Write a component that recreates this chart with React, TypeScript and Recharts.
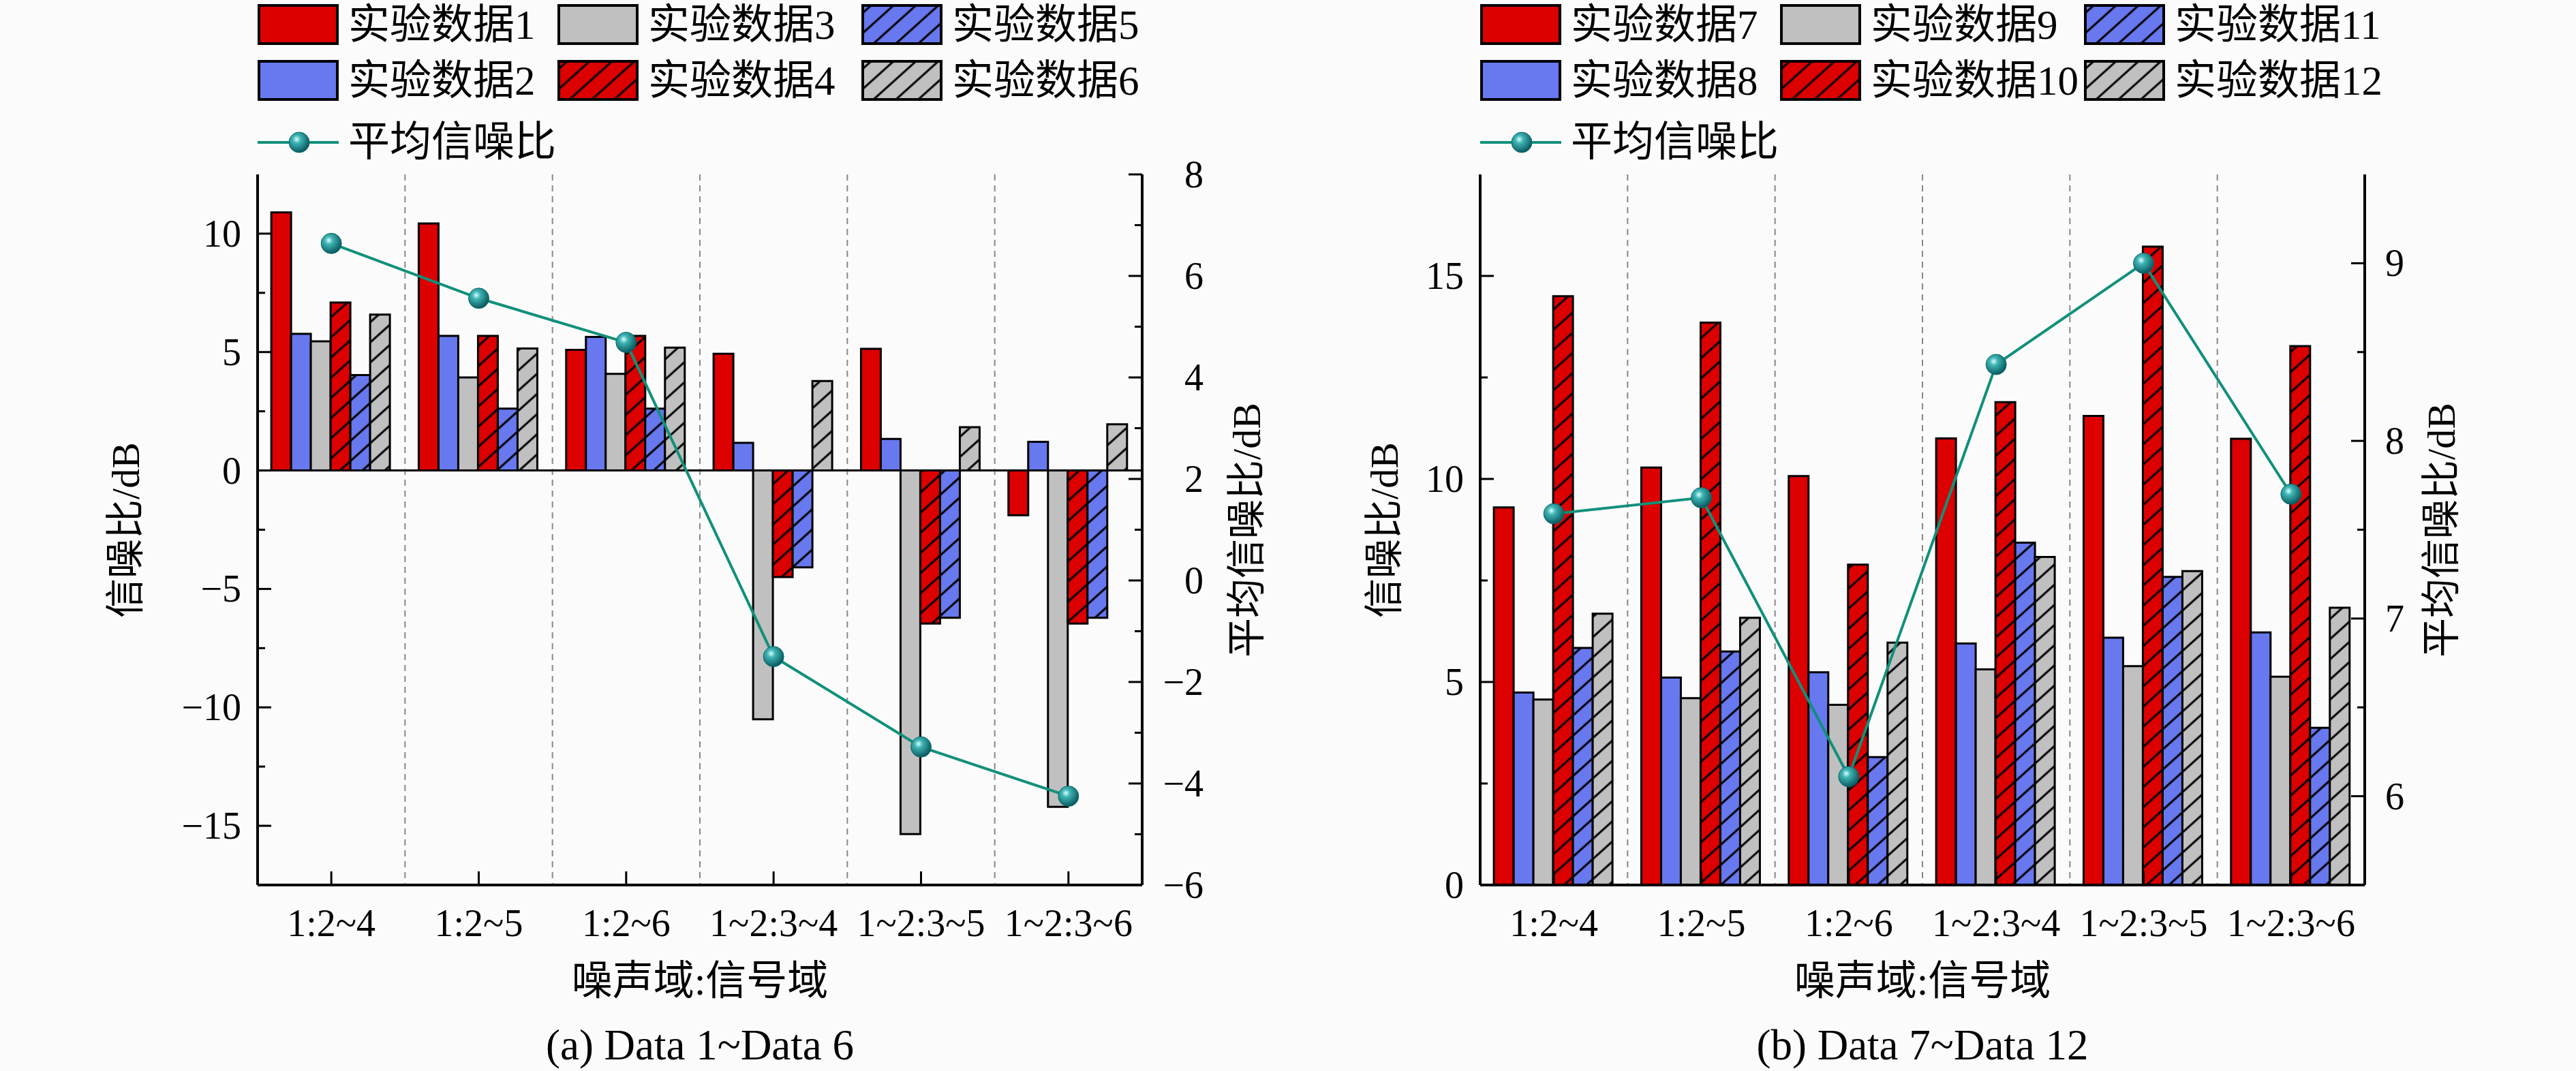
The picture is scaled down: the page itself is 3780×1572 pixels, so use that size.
import React from 'react';
import { ComposedChart, Bar, Line, XAxis, YAxis, ReferenceLine, CartesianGrid } from 'recharts';

// ---------- data ----------
const categories = ['1:2~4', '1:2~5', '1:2~6', '1~2:3~4', '1~2:3~5', '1~2:3~6'];

const data1 = [10.9, 10.43, 5.09, 4.93, 5.14, -1.89];
const data2 = [5.77, 5.68, 5.64, 1.17, 1.33, 1.21];
const data3 = [5.45, 3.93, 4.08, -10.5, -15.35, -14.2];
const data4 = [7.09, 5.68, 5.68, -4.5, -6.46, -6.46];
const data5 = [4.03, 2.61, 2.61, -4.09, -6.22, -6.22];
const data6 = [6.58, 5.15, 5.19, 3.78, 1.83, 1.95];
const avgA = [6.64, 5.56, 4.69, -1.5, -3.28, -4.25];

const data7 = [9.3, 10.28, 10.07, 11.0, 11.55, 10.99];
const data8 = [4.74, 5.11, 5.24, 5.95, 6.09, 6.22];
const data9 = [4.57, 4.6, 4.44, 5.31, 5.39, 5.13];
const data10 = [14.5, 13.85, 7.89, 11.89, 15.72, 13.27];
const data11 = [5.84, 5.75, 3.15, 8.43, 7.59, 3.87];
const data12 = [6.68, 6.58, 5.97, 8.08, 7.73, 6.83];
const avgB = [7.59, 7.68, 6.11, 8.43, 9.0, 7.7];

const namesA = ['实验数据1', '实验数据2', '实验数据3', '实验数据4', '实验数据5', '实验数据6'];
const namesB = ['实验数据7', '实验数据8', '实验数据9', '实验数据10', '实验数据11', '实验数据12'];
const lineName = '平均信噪比';

const majorLA = [-15, -10, -5, 0, 5, 10];
const minorLA = [-12.5, -7.5, -2.5, 2.5, 7.5];
const majorRA = [-6, -4, -2, 0, 2, 4, 6, 8];
const minorRA = [-5, -3, -1, 1, 3, 5, 7];
const majorLB = [0, 5, 10, 15];
const minorLB = [2.5, 7.5, 12.5];
const majorRB = [6, 7, 8, 9];
const minorRB = [6.5, 7.5, 8.5];

// ---------- styles ----------
const FONT = "'Liberation Serif','Times New Roman','Noto Sans CJK SC',serif";
const RED = '#dc0000';
const BLUE = '#6878ee';
const GRAY = '#c0c0c0';
const TEAL = '#10907a';
const BG = '#fbfbfb';
const seriesFills = [RED, BLUE, GRAY, 'url(#hatchRed)', 'url(#hatchBlue)', 'url(#hatchGray)'];

const fmt = (v: number) => (v < 0 ? '\u2212' + Math.abs(v) : String(v));

const buildRows = (vals: number[][], avg: number[]) =>
  categories.map((c, i) => {
    const r: any = { cat: c, avg: avg[i] };
    vals.forEach((v, k) => (r['s' + k] = v[i]));
    return r;
  });

const rowsA = buildRows([data1, data2, data3, data4, data5, data6], avgA);
const rowsB = buildRows([data7, data8, data9, data10, data11, data12], avgB);

const Defs = () => (
  <svg width={0} height={0} style={{ position: 'absolute' }}>
    <defs>
      {[
        ['hatchRed', RED],
        ['hatchBlue', BLUE],
        ['hatchGray', GRAY],
      ].map(([id, c]) => (
        <pattern key={id} id={id} width={22} height={22} patternUnits="userSpaceOnUse" patternTransform="rotate(48)">
          <rect width={22} height={22} fill={c} />
          <line x1={11} y1={0} x2={11} y2={22} stroke="#000" strokeWidth={3} />
        </pattern>
      ))}
      <radialGradient id="sphere" cx="38%" cy="35%" r="65%">
        <stop offset="0%" stopColor="#d8ffff" />
        <stop offset="30%" stopColor="#3fb4b4" />
        <stop offset="100%" stopColor="#0a5a60" />
      </radialGradient>
    </defs>
  </svg>
);

const LeftTick = (majors: number[]) => (props: any) => {
  const { x, y, payload } = props;
  const v = payload.value;
  const major = majors.includes(v);
  return (
    <g>
      <line x1={x} x2={x + (major ? 20 : 11)} y1={y} y2={y} stroke="#000" strokeWidth={3} />
      {major && (
        <text x={x - 24} y={y} textAnchor="end" dominantBaseline="central" fontSize={56} fontFamily={FONT} fill="#000">
          {fmt(v)}
        </text>
      )}
    </g>
  );
};

const RightTick = (majors: number[], endOffset: number) => (props: any) => {
  const { x, y, payload } = props;
  const v = payload.value;
  const major = majors.includes(v);
  return (
    <g>
      <line x1={x} x2={x - (major ? 20 : 11)} y1={y} y2={y} stroke="#000" strokeWidth={3} />
      {major && (
        <text x={x + endOffset} y={y} textAnchor="end" dominantBaseline="central" fontSize={56} fontFamily={FONT} fill="#000">
          {fmt(v)}
        </text>
      )}
    </g>
  );
};

const BottomTick = (props: any) => {
  const { x, y, payload } = props;
  return (
    <g>
      <line x1={x} x2={x} y1={y} y2={y - 20} stroke="#000" strokeWidth={3} />
      <text x={x} y={y + 56} textAnchor="middle" dominantBaseline="central" fontSize={56} fontFamily={FONT} fill="#000">
        {payload.value}
      </text>
    </g>
  );
};

const SphereDot = (p: any) => {
  if (p.cx == null || p.cy == null) return <g key={p.index} />;
  return <circle key={p.index} cx={p.cx} cy={p.cy} r={15} fill="url(#sphere)" stroke="#0a6a6a" strokeWidth={1} />;
};

// category boundaries (between neighbouring categories)
const dividers = categories.slice(1).map((_, i) => i + 1);
const dividerGen = (props: any) => {
  const off = props.offset;
  return dividers.map((d) => off.left + (off.width * d) / categories.length);
};

type ChartProps = {
  rows: any[];
  names: string[];
  left: number;
  width: number;
  plotLeft: number;
  plotRight: number;
  domL: [number, number];
  majL: number[];
  minL: number[];
  domR: [number, number];
  majR: number[];
  minR: number[];
  rightEnd: number;
  caption: string;
  yTitleL: number;
  yTitleR: number;
};

const PLOT_TOP = 256;
const PLOT_BOTTOM = 1299;
const H = 1572;
const AXW = 100;
const XAH = 60;

const Panel = (p: ChartProps) => {
  const ticksL = [...p.majL, ...p.minL].sort((a, b) => a - b);
  const ticksR = [...p.majR, ...p.minR].sort((a, b) => a - b);
  const cx = (p.plotLeft + p.plotRight) / 2;
  const cy = (PLOT_TOP + PLOT_BOTTOM) / 2;
  const textStyle: React.CSSProperties = {
    position: 'absolute',
    fontFamily: FONT,
    whiteSpace: 'nowrap',
    color: '#000',
    lineHeight: 1,
  };
  const colX = [0, 440, 886];
  return (
    <div style={{ position: 'absolute', left: p.left, top: 0, width: p.width, height: H }}>
      <ComposedChart
        width={p.width}
        height={H}
        data={p.rows}
        barGap={0}
        barCategoryGap="9.3%"
        margin={{
          top: PLOT_TOP,
          left: p.plotLeft - AXW,
          right: p.width - p.plotRight - AXW,
          bottom: H - PLOT_BOTTOM - XAH,
        }}
      >
        <CartesianGrid
          xAxisId="c"
          yAxisId="left"
          horizontal={false}
          vertical
          verticalCoordinatesGenerator={dividerGen}
          stroke="#888"
          strokeWidth={2}
          strokeDasharray="9 7"
          fill="none"
        />
        <XAxis
          xAxisId="c"
          dataKey="cat"
          height={XAH}
          interval={0}
          tickSize={0}
          tickMargin={0}
          tickLine={false}
          tick={BottomTick}
          axisLine={{ stroke: '#000', strokeWidth: 4 }}
        />
        <XAxis
          xAxisId="g"
          type="number"
          domain={[0, categories.length]}
          orientation="top"
          height={0}
          ticks={[]}
          tick={false}
          tickLine={false}
          axisLine={{ stroke: '#000', strokeWidth: 4 }}
        />
        <YAxis
          yAxisId="left"
          width={AXW}
          domain={p.domL}
          ticks={ticksL}
          interval={0}
          allowDataOverflow
          tickSize={0}
          tickMargin={0}
          tickLine={false}
          tick={LeftTick(p.majL)}
          axisLine={{ stroke: '#000', strokeWidth: 4 }}
        />
        <YAxis
          yAxisId="right"
          orientation="right"
          width={AXW}
          domain={p.domR}
          ticks={ticksR}
          interval={0}
          allowDataOverflow
          tickSize={0}
          tickMargin={0}
          tickLine={false}
          tick={RightTick(p.majR, p.rightEnd)}
          axisLine={{ stroke: '#000', strokeWidth: 4 }}
        />
        {p.names.map((n, k) => (
          <Bar
            key={n}
            dataKey={'s' + k}
            name={n}
            xAxisId="c"
            yAxisId="left"
            fill={seriesFills[k]}
            stroke="#000"
            strokeWidth={3}
            isAnimationActive={false}
          />
        ))}
        {p.domL[0] < 0 && (
          <ReferenceLine y={0} xAxisId="c" yAxisId="left" stroke="#000" strokeWidth={3} />
        )}
        <Line
          dataKey="avg"
          name={lineName}
          xAxisId="c"
          yAxisId="right"
          stroke={TEAL}
          strokeWidth={4}
          dot={SphereDot}
          activeDot={false}
          isAnimationActive={false}
        />
      </ComposedChart>

      {/* legend */}
      {p.names.map((n, k) => {
        const col = Math.floor(k / 2);
        const row = k % 2;
        return (
          <div
            key={n}
            style={{
              position: 'absolute',
              left: p.plotLeft + colX[col],
              top: 6 + row * 82,
              height: 60,
              display: 'flex',
              alignItems: 'center',
            }}
          >
            <svg width={119} height={60}>
              <rect x={2} y={2} width={115} height={56} fill={seriesFills[k]} stroke="#000" strokeWidth={4} />
            </svg>
            <span style={{ fontFamily: FONT, fontSize: 61, marginLeft: 14, whiteSpace: 'nowrap', lineHeight: 1 }}>{n}</span>
          </div>
        );
      })}
      <div
        style={{
          position: 'absolute',
          left: p.plotLeft,
          top: 178,
          height: 60,
          display: 'flex',
          alignItems: 'center',
        }}
      >
        <svg width={119} height={60}>
          <line x1={0} x2={119} y1={31} y2={31} stroke={TEAL} strokeWidth={4} />
          <circle cx={61} cy={31} r={15} fill="url(#sphere)" stroke="#0a6a6a" strokeWidth={1} />
        </svg>
        <span style={{ fontFamily: FONT, fontSize: 61, marginLeft: 14, whiteSpace: 'nowrap', lineHeight: 1 }}>{lineName}</span>
      </div>

      {/* axis titles */}
      <div style={{ ...textStyle, fontSize: 58, left: p.yTitleL, top: cy, transform: 'translate(-50%,-50%) rotate(-90deg)' }}>
        信噪比/dB
      </div>
      <div style={{ ...textStyle, fontSize: 58, left: p.yTitleR, top: cy, transform: 'translate(-50%,-50%) rotate(-90deg)' }}>
        平均信噪比/dB
      </div>
      <div style={{ ...textStyle, fontSize: 60, left: cx, top: 1440, transform: 'translate(-50%,-50%)' }}>噪声域:信号域</div>
      <div style={{ ...textStyle, fontSize: 63, left: cx, top: 1534, transform: 'translate(-50%,-50%)' }}>{p.caption}</div>
    </div>
  );
};

export default function App() {
  return (
    <div style={{ position: 'relative', width: 3780, height: H, background: BG, overflow: 'hidden' }}>
      <style>{`body{margin:0;}`}</style>
      <Defs />
      <Panel
        rows={rowsA}
        names={namesA}
        left={0}
        width={1880}
        plotLeft={378}
        plotRight={1676}
        domL={[-17.5, 12.5]}
        majL={majorLA}
        minL={minorLA}
        domR={[-6, 8]}
        majR={majorRA}
        minR={minorRA}
        rightEnd={90}
        caption="(a) Data 1~Data 6"
        yTitleL={185}
        yTitleR={1830}
      />
      <Panel
        rows={rowsB}
        names={namesB}
        left={1880}
        width={1900}
        plotLeft={292}
        plotRight={1590}
        domL={[0, 17.5]}
        majL={majorLB}
        minL={minorLB}
        domR={[5.5, 9.5]}
        majR={majorRB}
        minR={minorRB}
        rightEnd={58}
        caption="(b) Data 7~Data 12"
        yTitleL={152}
        yTitleR={1703}
      />
    </div>
  );
}
